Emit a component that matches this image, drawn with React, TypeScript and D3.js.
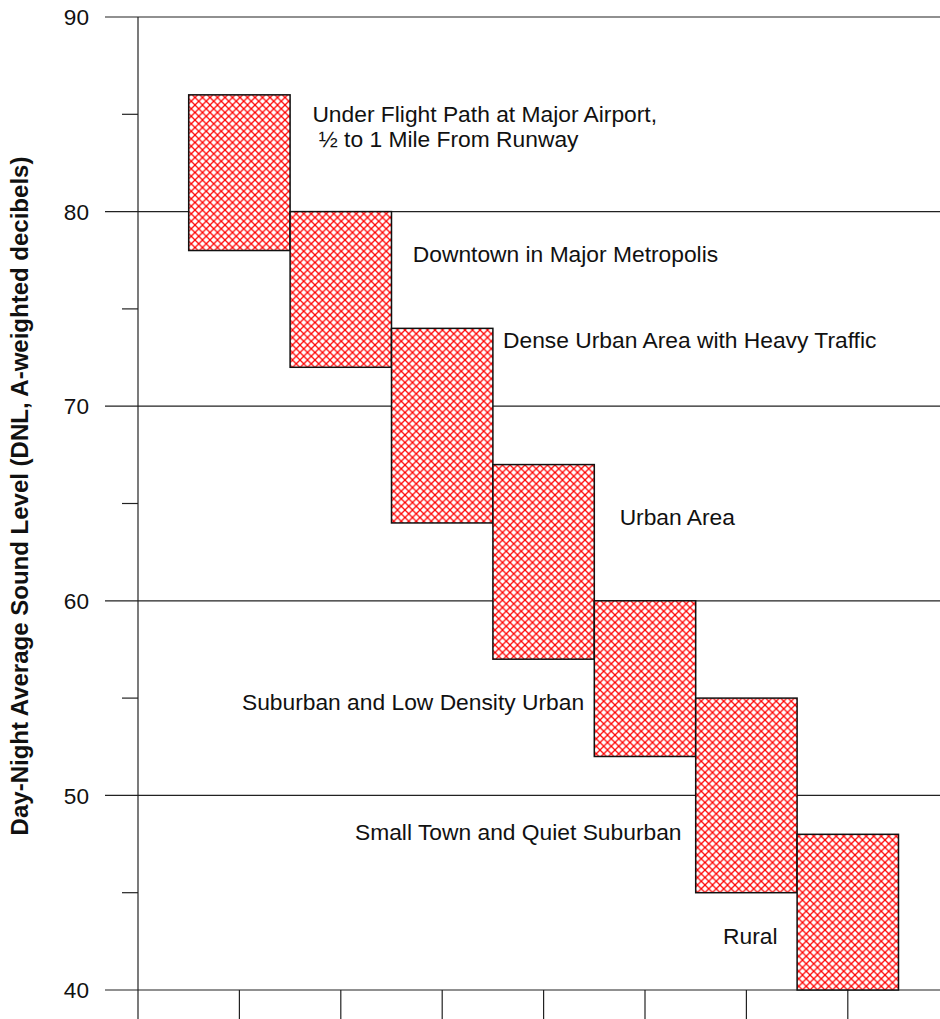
import React from "react";
import * as d3 from "d3";

const categories = [
  "Under Flight Path at Major Airport, ½ to 1 Mile From Runway",
  "Downtown in Major Metropolis",
  "Dense Urban Area with Heavy Traffic",
  "Urban Area",
  "Suburban and Low Density Urban",
  "Small Town and Quiet Suburban",
  "Rural",
];
const lowValues = [78, 72, 64, 57, 52, 45, 40];
const highValues = [86, 80, 74, 67, 60, 55, 48];
const majorTicks = [40, 50, 60, 70, 80, 90];
const minorTicks = [45, 55, 65, 75, 85];
const xTicks = [1, 2, 3, 4, 5, 6, 7];

// label lines and their anchor positions (in data units: x index, y value)
const labelLines = [
  { text: "Under Flight Path at Major Airport,", x: 1.72, y: 84.6 },
  { text: "\u00a0½ to 1 Mile From Runway", x: 1.72, y: 83.3 },
  { text: "Downtown in Major Metropolis", x: 2.71, y: 77.4 },
  { text: "Dense Urban Area with Heavy Traffic", x: 3.6, y: 73.0 },
  { text: "Urban Area", x: 4.75, y: 63.9 },
  { text: "Suburban and Low Density Urban", x: 1.025, y: 54.4 },
  { text: "Small Town and Quiet Suburban", x: 2.14, y: 47.7 },
  { text: "Rural", x: 5.77, y: 42.35 },
];

const W = 940;
const H = 1019;

export default function App() {
  const y = d3.scaleLinear().domain([40, 90]).range([990, 17]);
  const x = d3.scaleLinear().domain([0, 8]).range([138, 138 + 8 * 101.4]);
  const font = "'Liberation Sans', Arial, sans-serif";

  return (
    <svg
      width={W}
      height={H}
      style={{ position: "absolute", left: 0, top: 0, background: "#fff" }}
      fontFamily={font}
    >
      <defs>
        <pattern id="hatch" patternUnits="userSpaceOnUse" width={7.5} height={7.5}>
          <rect width={7.5} height={7.5} fill="#fff" />
          <path d="M0,0 L7.5,7.5 M7.5,0 L0,7.5" stroke="#ff0000" strokeWidth={1.25} />
        </pattern>
      </defs>

      {/* major gridlines */}
      {majorTicks.map((t) => (
        <line key={"g" + t} x1={105} x2={W} y1={y(t)} y2={y(t)} stroke="#222" strokeWidth={1.2} />
      ))}
      {/* minor ticks */}
      {minorTicks.map((t) => (
        <line key={"m" + t} x1={122} x2={x(0)} y1={y(t)} y2={y(t)} stroke="#222" strokeWidth={1.2} />
      ))}
      {/* y tick labels */}
      {majorTicks.map((t) => (
        <text key={"l" + t} x={89} y={y(t)} dy="0.36em" textAnchor="end" fontSize={22.6} fill="#111">
          {t}
        </text>
      ))}
      {/* y axis line */}
      <line x1={x(0)} x2={x(0)} y1={y(90)} y2={H} stroke="#222" strokeWidth={1.2} />
      {/* x ticks */}
      {xTicks.map((t) => (
        <line key={"x" + t} x1={x(t)} x2={x(t)} y1={y(40)} y2={H} stroke="#222" strokeWidth={1.2} />
      ))}

      {/* boxes */}
      {categories.map((c, i) => (
        <rect
          key={c}
          x={x(i + 0.5)}
          y={y(highValues[i])}
          width={x(i + 1.5) - x(i + 0.5)}
          height={y(lowValues[i]) - y(highValues[i])}
          fill="url(#hatch)"
          stroke="#111"
          strokeWidth={1.5}
        />
      ))}

      {/* labels */}
      {labelLines.map((l, i) => (
        <text key={"t" + i} x={x(l.x)} y={y(l.y)} fontSize={22.8} fill="#111">
          {l.text}
        </text>
      ))}

      {/* y axis title */}
      <text
        transform={`translate(28,496) rotate(-90)`}
        textAnchor="middle"
        fontSize={24}
        fontWeight="bold"
        fill="#111"
      >
        Day-Night Average Sound Level (DNL, A-weighted decibels)
      </text>
    </svg>
  );
}
